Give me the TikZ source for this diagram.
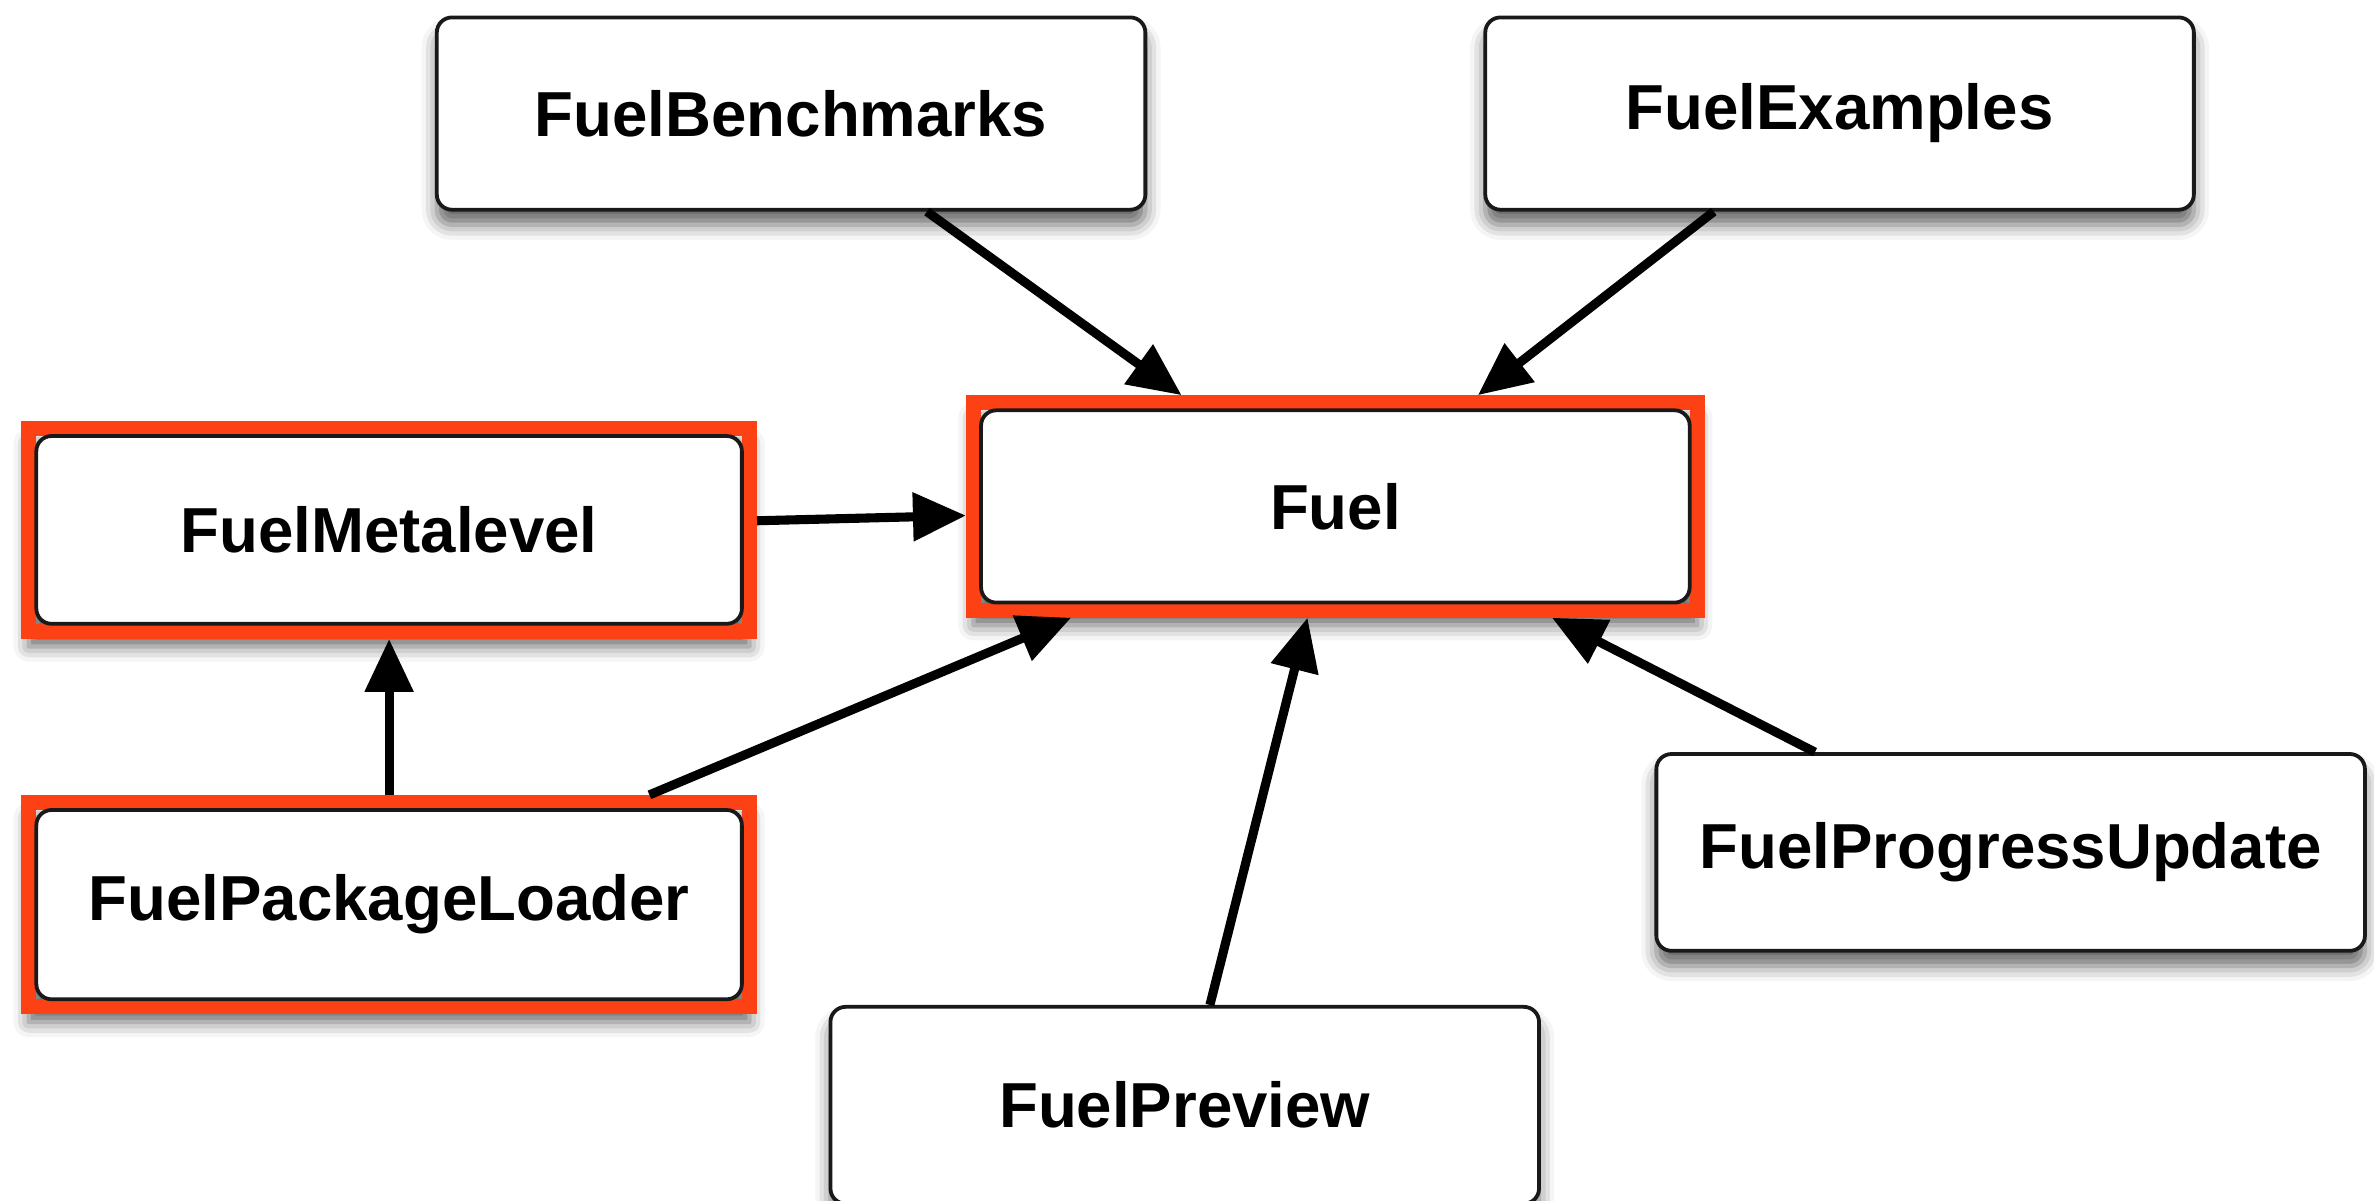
\documentclass[tikz,border=0pt]{standalone}
\usepackage{fontspec}
\setmainfont{Liberation Sans}
\usetikzlibrary{arrows.meta,shadows.blur,backgrounds}
\definecolor{hl}{RGB}{252,65,20}
\begin{document}
\begin{tikzpicture}[x=1pt,y=-1pt,
  box/.style={draw=black!90, line width=2.5pt, fill=white, rounded corners=10pt,
    minimum width=468pt, minimum height=127pt, inner sep=0pt,
    font=\fontsize{42}{50}\selectfont\bfseries},
  shade/.style={blur shadow={shadow xshift=0pt, shadow yshift=-10pt,
    shadow blur radius=10pt, shadow opacity=60}},
  hlbox/.style={box, outer sep=10pt},
  hlframe/.style={draw=hl, line width=10pt},
  edge/.style={line width=6pt, -{Triangle[length=35pt,width=31pt]}}
]
\useasboundingbox (0,0) rectangle (1568,793);

\node[box, shade] (bench) at (522.5,75) {FuelBenchmarks};
\node[box, shade] (ex) at (1215,75) {FuelExamples};
\node[hlbox] (fuel) at (882,334.5) {Fuel};
\node[hlbox, minimum width=466pt, minimum height=124pt] (meta) at (257,350) {FuelMetalevel};
\node[hlbox, minimum width=466pt, minimum height=125pt] (pkg) at (257,597.5) {FuelPackageLoader};
\node[box, shade, minimum height=130pt] (prog) at (1328,563) {FuelProgressUpdate};
\node[box, shade, minimum height=130pt] (prev) at (782.5,730) {FuelPreview};

\begin{scope}[on background layer]
  \foreach \n in {fuel,meta,pkg}{
    \draw[hlframe, shade] ([xshift=5pt,yshift=-5pt]\n.north west) rectangle ([xshift=-5pt,yshift=5pt]\n.south east);
  }
\end{scope}

\draw[edge] (bench) -- (fuel);
\draw[edge] (ex) -- (fuel);
\draw[edge] (meta) -- (fuel);
\draw[edge] (pkg) -- (meta);
\draw[edge] (pkg) -- (fuel);
\draw[edge] (prev) -- (fuel);
\draw[edge] (prog) -- (fuel);
\end{tikzpicture}
\end{document}
